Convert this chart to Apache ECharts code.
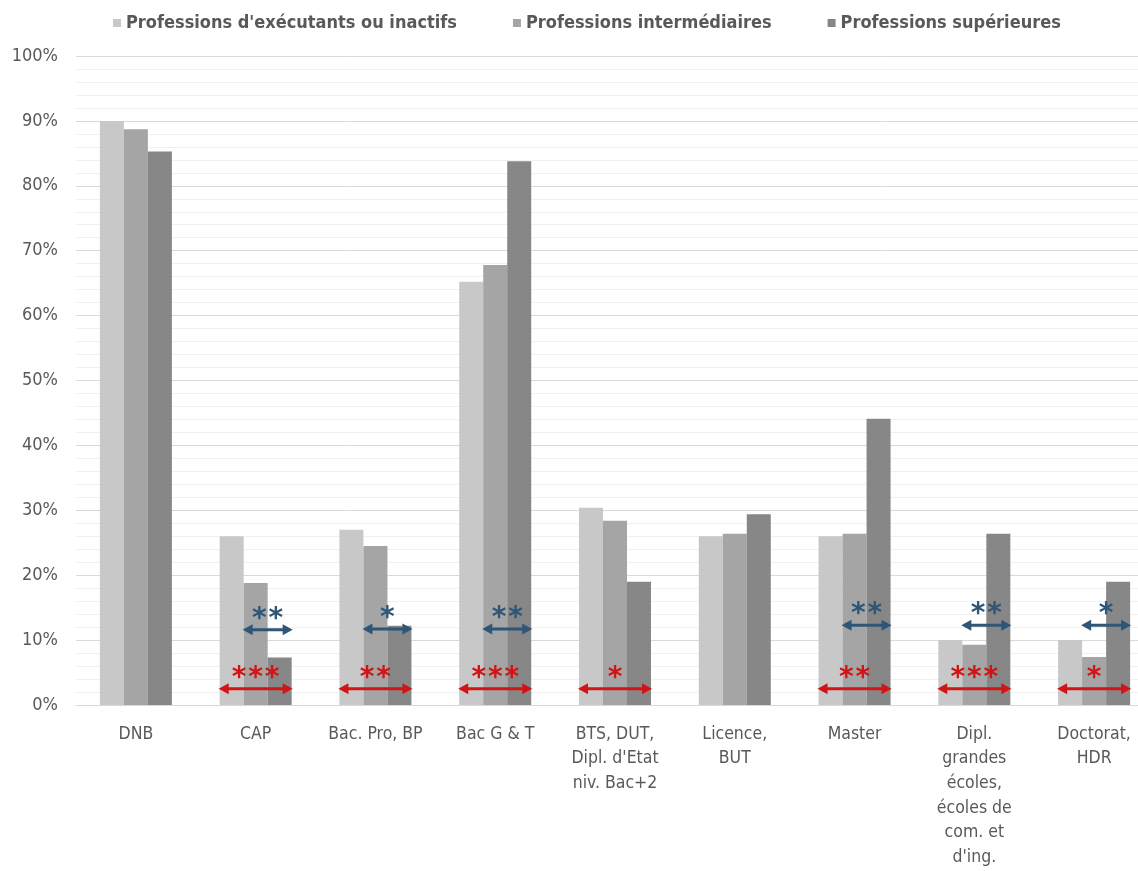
<!DOCTYPE html>
<html>
<head>
<meta charset="utf-8">
<style>
  html, body { margin: 0; padding: 0; background: #fff; overflow: hidden; }
  #chart { width: 1160px; height: 871px; }
</style>
<script src="https://cdn.jsdelivr.net/npm/echarts@6/dist/echarts.min.js"></script>
</head>
<body>
<div id="chart"></div>
<script>
// données
var categories = [
  "DNB",
  "CAP",
  "Bac. Pro, BP",
  "Bac G & T",
  "BTS, DUT,\nDipl. d'Etat\nniv. Bac+2",
  "Licence,\nBUT",
  "Master",
  "Dipl.\ngrandes\nécoles,\nécoles de\ncom. et\nd'ing.",
  "Doctorat,\nHDR"
];
var seriesNames = [
  "Professions d'exécutants ou inactifs",
  "Professions intermédiaires",
  "Professions supérieures"
];
var executants = [90.0, 26.0, 27.0, 65.2, 30.4, 26.0, 26.0, 10.0, 10.0];
var intermediaires = [88.7, 18.8, 24.5, 67.8, 28.4, 26.4, 26.4, 9.3, 7.4];
var superieures = [85.3, 7.3, 12.2, 83.8, 19.0, 29.4, 44.1, 26.4, 19.0];

// significativité : exécutants vs supérieures (rouge), intermédiaires vs supérieures (bleu)
var redStars = ["", "***", "**", "***", "*", "", "**", "***", "*"];
var blueStars = ["", "**", "*", "**", "", "", "**", "**", "*"];
var redLevel = [null, 2.5, 2.5, 2.5, 2.5, null, 2.5, 2.5, 2.5];
var blueLevel = [null, 11.6, 11.7, 11.7, null, null, 12.3, 12.3, 12.3];

var yTicks = [0, 10, 20, 30, 40, 50, 60, 70, 80, 90, 100];

var colors = ["#c8c8c8", "#a5a5a5", "#878787"];
var RED = "#d21414";
var BLUE = "#2f5577";
var BAR_W = 24;
var FONT = "'DejaVu Sans Condensed', 'DejaVu Sans'";

function arrowItem(stars, color, fromBar) {
  return function (params, api) {
    var c = api.coord([api.value(0), api.value(1)]);
    var x1 = c[0] + (fromBar - 1.5) * BAR_W - 1;
    var x2 = c[0] + 1.5 * BAR_W + 1;
    var y = c[1];
    var head = 10, hh = 5.5;
    var children = [
      { type: "line", shape: { x1: x1 + head - 2, y1: y, x2: x2 - head + 2, y2: y }, style: { stroke: color, lineWidth: 3 } },
      { type: "polygon", shape: { points: [[x1, y], [x1 + head, y - hh], [x1 + head, y + hh]] }, style: { fill: color } },
      { type: "polygon", shape: { points: [[x2, y], [x2 - head, y - hh], [x2 - head, y + hh]] }, style: { fill: color } }
    ];
    var s = stars[params.dataIndex] || "";
    var step = 16.5;
    var cx = (x1 + x2) / 2;
    for (var k = 0; k < s.length; k++) {
      children.push({
        type: "text",
        style: {
          text: "*",
          x: cx + (k - (s.length - 1) / 2) * step,
          y: y + 4,
          fill: color,
          font: "bold 28px 'DejaVu Sans'",
          align: "center",
          verticalAlign: "bottom"
        }
      });
    }
    return { type: "group", children: children };
  };
}

function levelData(levels) {
  return levels.map(function (v, i) { return v == null ? [i, "-"] : [i, v]; });
}

var chart = echarts.init(document.getElementById("chart"));
chart.setOption({
  animation: false,
  textStyle: { fontFamily: FONT },
  color: colors,
  legend: {
    data: seriesNames,
    top: 9,
    left: 108,
    icon: "rect",
    itemWidth: 8,
    itemHeight: 8,
    itemGap: 56,
    textStyle: { color: "#595959", fontSize: 18, fontWeight: "bold", fontFamily: FONT }
  },
  grid: { left: 76, top: 56, width: 1078, bottom: 166, containLabel: false },
  xAxis: {
    type: "category",
    data: categories,
    axisLine: { lineStyle: { color: "#d9d9d9", width: 1 } },
    axisTick: { show: false },
    axisLabel: {
      interval: 0,
      color: "#595959",
      fontSize: 17.5,
      lineHeight: 24.6,
      margin: 17,
      fontFamily: FONT
    }
  },
  yAxis: {
    type: "value",
    min: yTicks[0],
    max: yTicks[yTicks.length - 1],
    interval: 10,
    axisLine: { show: false },
    axisTick: { show: false },
    axisLabel: { color: "#595959", fontSize: 18, margin: 18, fontFamily: FONT, formatter: "{value}%" },
    splitLine: { lineStyle: { color: "#d9d9d9", width: 1 } },
    minorTick: { show: false, splitNumber: 5 },
    minorSplitLine: { show: true, lineStyle: { color: "#f0f0f0", width: 1 } }
  },
  series: [
    { name: seriesNames[0], type: "bar", data: executants, barWidth: BAR_W, barGap: "0%", itemStyle: { color: colors[0] } },
    { name: seriesNames[1], type: "bar", data: intermediaires, barWidth: BAR_W, barGap: "0%", itemStyle: { color: colors[1] } },
    { name: seriesNames[2], type: "bar", data: superieures, barWidth: BAR_W, barGap: "0%", itemStyle: { color: colors[2] } },
    { name: "rouge", type: "custom", renderItem: arrowItem(redStars, RED, 0), data: levelData(redLevel), z: 5 },
    { name: "bleu", type: "custom", renderItem: arrowItem(blueStars, BLUE, 1), data: levelData(blueLevel), z: 5 }
  ]
});
</script>
</body>
</html>
